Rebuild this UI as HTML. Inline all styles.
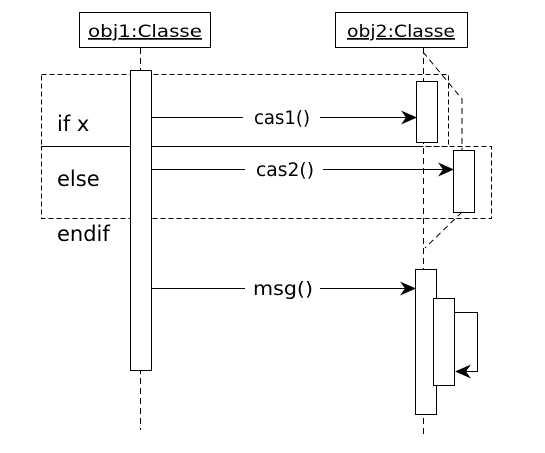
<!DOCTYPE html>
<html><head><style>body{margin:0;background:#fff}</style></head><body>
<svg width="545" height="448" xmlns="http://www.w3.org/2000/svg" font-family="DejaVu Sans, Liberation Sans, sans-serif">
<defs><marker id="a" markerWidth="16" markerHeight="14" refX="15" refY="7" orient="auto" markerUnits="userSpaceOnUse"><path d="M0,0 L16,7 L0,14 L5,7 Z" fill="#000"/></marker></defs>
<g stroke="#000" fill="none" stroke-width="1">
<rect x="79.5" y="12.5" width="131" height="35" fill="#fff"/>
<rect x="335.5" y="12.5" width="132" height="35" fill="#fff"/>
<line x1="140.5" y1="48" x2="140.5" y2="430" stroke-dasharray="6,4"/>
<line x1="423.5" y1="48" x2="423.5" y2="437" stroke-dasharray="6,4"/>
<rect x="41.5" y="74.5" width="407" height="72" stroke-dasharray="5,3"/>
<rect x="41.5" y="146.5" width="450" height="72" stroke-dasharray="5,3"/>
<line x1="41" y1="146.5" x2="423" y2="146.5"/>
<polyline points="423,52 462,99 462,150" stroke-dasharray="6,4"/>
<line x1="462" y1="212" x2="425" y2="248" stroke-dasharray="6,4"/>
<rect x="130.5" y="70.5" width="21" height="300" fill="#fff"/>
<rect x="416.5" y="81.5" width="21" height="61" fill="#fff"/>
<rect x="453.5" y="150.5" width="21" height="62" fill="#fff"/>
<rect x="415.5" y="269.5" width="21" height="145" fill="#fff"/>
<rect x="433.5" y="298.5" width="21" height="87" fill="#fff"/>
<line x1="152" y1="117.5" x2="243" y2="117.5"/><line x1="320" y1="117.5" x2="416" y2="117.5" marker-end="url(#a)"/>
<line x1="152" y1="169.5" x2="245" y2="169.5"/><line x1="323" y1="169.5" x2="453" y2="169.5" marker-end="url(#a)"/>
<line x1="152" y1="288.5" x2="245" y2="288.5"/><line x1="320" y1="288.5" x2="415" y2="288.5" marker-end="url(#a)"/>
<polyline points="455,312.5 477.5,312.5 477.5,371.5 456,371.5" marker-end="url(#a)"/>
</g>
<g font-size="17" fill="#000">
<text x="145" y="37" text-anchor="middle" text-decoration="underline" textLength="114" lengthAdjust="spacingAndGlyphs">obj1:Classe</text>
<text x="401" y="37" text-anchor="middle" text-decoration="underline" textLength="108" lengthAdjust="spacingAndGlyphs">obj2:Classe</text>
<text x="282" y="124" text-anchor="middle" font-size="19" textLength="56" lengthAdjust="spacingAndGlyphs">cas1()</text>
<text x="285" y="176" text-anchor="middle" font-size="19" textLength="58" lengthAdjust="spacingAndGlyphs">cas2()</text>
<text x="283" y="295" text-anchor="middle" font-size="19" textLength="60" lengthAdjust="spacingAndGlyphs">msg()</text>
<text x="57" y="131" font-size="21">if x</text>
<text x="57" y="186" font-size="21">else</text>
<text x="57" y="241" font-size="21">endif</text>
</g>
</svg>
</body></html>
